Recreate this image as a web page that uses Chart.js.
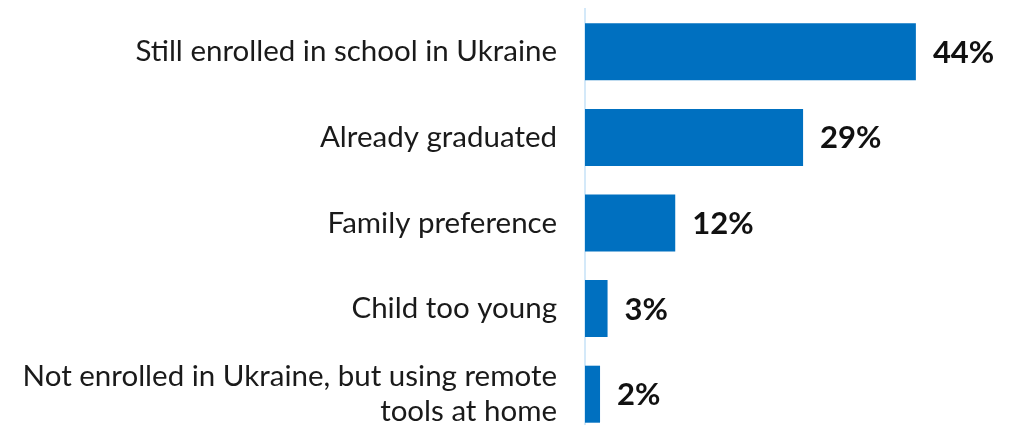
<!DOCTYPE html>
<html>
<head>
<meta charset="utf-8">
<script src="https://cdn.jsdelivr.net/npm/chart.js@4/dist/chart.umd.min.js"></script>
<style>
  html, body { margin: 0; padding: 0; background: #fff; overflow: hidden; }
  canvas { display: block; }
</style>
</head>
<body>
<canvas id="myChart" width="1022" height="438"></canvas>
<script>
const categories = [
  'Still enrolled in school in Ukraine',
  'Already graduated',
  'Family preference',
  'Child too young',
  ['Not enrolled in Ukraine, but using remote', 'tools at home']
];
const shares = [44, 29, 12, 3, 2];

// draw the % labels at the end of each bar
const endLabels = {
  id: 'endLabels',
  afterDatasetsDraw(chart) {
    const ctx = chart.ctx;
    const meta = chart.getDatasetMeta(0);
    ctx.save();
    ctx.font = 'bold 31px Lato';
    ctx.fillStyle = '#111';
    ctx.textAlign = 'left';
    ctx.textBaseline = 'middle';
    meta.data.forEach((bar, i) => {
      ctx.fillText(shares[i] + '%', bar.x + 17, bar.y + 1);
    });
    ctx.restore();
  }
};

new Chart(document.getElementById('myChart'), {
  type: 'bar',
  data: {
    labels: categories,
    datasets: [{
      data: shares,
      backgroundColor: '#0070C0',
      barPercentage: 0.666,
      categoryPercentage: 1
    }]
  },
  options: {
    indexAxis: 'y',
    responsive: false,
    animation: false,
    layout: { padding: { top: 9, bottom: 1, right: 61, left: 0 } },
    plugins: { legend: { display: false }, tooltip: { enabled: false } },
    scales: {
      x: { display: false, min: 0, max: 50 },
      y: {
        grid: { display: false, drawTicks: false },
        border: { display: true, color: '#d4e9f9', width: 2 },
        ticks: {
          font: { family: 'Lato', size: 29.5 },
          color: '#1a1a1a',
          padding: 28,
          lineHeight: 1.08
        },
        afterFit(scale) {
          scale.width = 585;
          scale.paddingTop = 0;
          scale.paddingBottom = 0;
        }
      }
    }
  },
  plugins: [endLabels]
});
</script>
</body>
</html>
